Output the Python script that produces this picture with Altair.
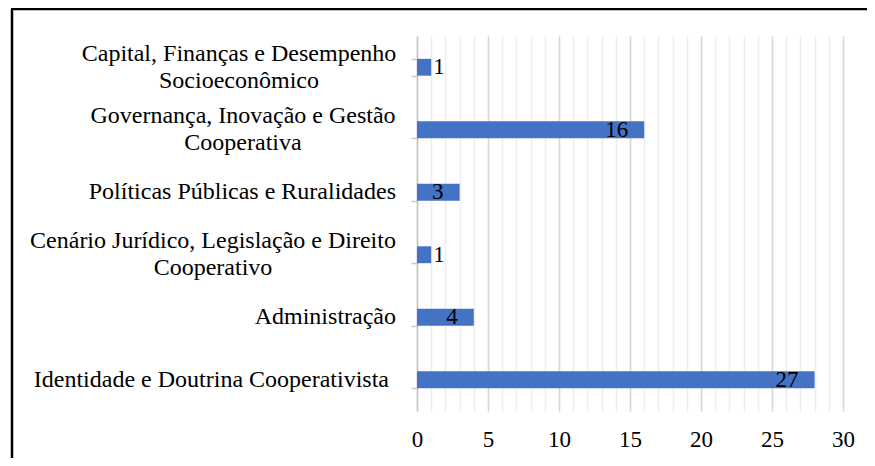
import altair as alt
import pandas as pd

# ---- data ----
categories = [
    "Capital, Finanças e Desempenho|Socioeconômico",
    "Governança, Inovação e Gestão|Cooperativa",
    "Políticas Públicas e Ruralidades",
    "Cenário Jurídico, Legislação e Direito|Cooperativo",
    "Administração",
    "Identidade e Doutrina Cooperativista",
]
bar_values = [1, 16, 3, 1, 4, 28]
value_labels = ["1", "16", "3", "1", "4", "27"]
x_tick_values = list(range(0, 31))

df = pd.DataFrame({"cat": categories, "value": bar_values, "lab": value_labels})

FONT = "Liberation Serif"

y_enc = alt.Y(
    "cat:N",
    sort=categories,
    scale=alt.Scale(paddingInner=0.73, paddingOuter=0.365),
    axis=alt.Axis(
        title=None,
        labels=False,
        tickBand="extent",
        tickSize=6,
        tickColor="#c8c8c8",
        tickWidth=1.5,
        domainColor="#c8c8c8",
        domainWidth=1.5,
        grid=False,
    ),
)

x_enc = alt.X(
    "value:Q",
    scale=alt.Scale(domain=[0, 30], nice=False),
    axis=alt.Axis(
        title=None,
        values=x_tick_values,
        labelExpr="datum.value % 5 === 0 ? datum.label : ''",
        labelFont=FONT,
        labelFontSize=23,
        labelColor="black",
        labelPadding=17,
        labelFlush=False,
        labelOverlap=False,
        ticks=False,
        domain=False,
        grid=True,
        gridColor={"condition": {"test": "datum.value % 5 === 0", "value": "#d6d6d6"}, "value": "#eeeeee"},
        gridWidth=1.6,
    ),
)

base = alt.Chart(df).encode(y=y_enc, x=x_enc)

bars = base.mark_bar(color="#4472C4")

labels_in = (
    base.mark_text(align="right", baseline="middle", dx=-16, font=FONT, fontSize=23, color="black")
    .encode(text="lab:N")
    .transform_filter("datum.value > 1")
)
labels_out = (
    base.mark_text(align="left", baseline="middle", dx=2, font=FONT, fontSize=23, color="black")
    .encode(text="lab:N")
    .transform_filter("datum.value <= 1")
)

# category labels: two-line ones centred as a block, single-line ones right-aligned
is_two = "indexof(datum.cat, '|') >= 0"
cat_labels = alt.Chart(df).mark_text(
    text=alt.expr("split(datum.cat, '|')"),
    align=alt.expr(f"{is_two} ? 'center' : 'right'"),
    dx=alt.expr(
        "indexof(datum.cat, 'Capital') === 0 ? -157 : "
        "indexof(datum.cat, 'Governan') === 0 ? -153 : "
        "indexof(datum.cat, 'Cen') === 0 ? -183 : "
        "indexof(datum.cat, 'Identidade') === 0 ? -7 : 0"
    ),
    dy=alt.expr(f"{is_two} ? -13.5 : 0"),
    baseline="middle",
    lineHeight=27,
    font=FONT,
    fontSize=24,
    color="black",
).encode(y=y_enc, x=alt.value(-21))

frame_src = alt.Data(values=[{"f": 1}])
frame_left = alt.Chart(frame_src).mark_rule(color="black", strokeWidth=2.5).encode(
    x=alt.value(-405), y=alt.value(-27), y2=alt.value(440)
)
frame_top = alt.Chart(frame_src).mark_rule(color="black", strokeWidth=2.5).encode(
    x=alt.value(-406), x2=alt.value(470), y=alt.value(-27)
)

chart = (
    alt.layer(bars, labels_in, labels_out, cat_labels, frame_left, frame_top)
    .properties(
        width=426,
        height=375,
        padding={"left": 409, "top": 28, "right": 24, "bottom": 47},
        autosize=alt.AutoSizeParams(type="none"),
        background="white",
    )
    .configure_view(stroke=None)
)

chart.save("out.html", embed_options={"renderer": "svg", "actions": False})
